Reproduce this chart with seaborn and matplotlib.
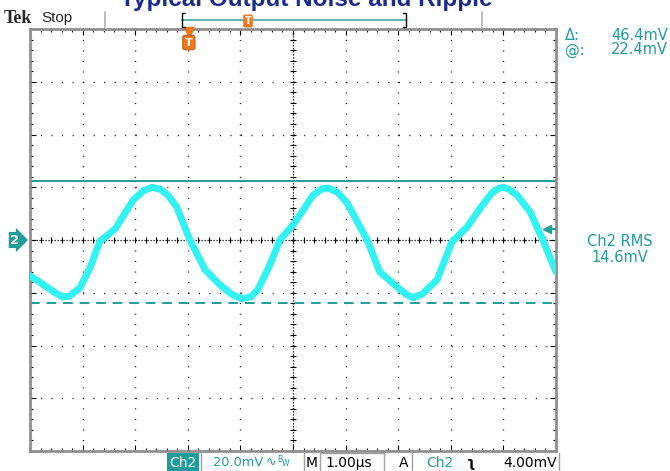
import numpy as np
import pandas as pd
import matplotlib
matplotlib.use("Agg")
import matplotlib.pyplot as plt
import matplotlib.transforms as mtransforms
from matplotlib.lines import Line2D
from matplotlib.patches import Rectangle
import seaborn as sns

# ripple trace (time in us, voltage in mV, 20 mV/div, 1 us/div)
time_us = [0.00, 0.23, 0.48, 0.62, 0.75, 0.95, 1.14, 1.33, 1.48, 1.63, 1.80, 1.96,
           2.15, 2.32, 2.48, 2.62, 2.79, 3.04, 3.33, 3.61, 3.85, 4.03, 4.20, 4.33,
           4.56, 4.75, 5.00, 5.20, 5.38, 5.55, 5.67, 5.85, 6.03, 6.41, 6.65, 6.98,
           7.15, 7.28, 7.45, 7.74, 8.02, 8.31, 8.56, 8.78, 8.90, 8.99, 9.10, 9.26,
           9.51, 9.75, 10.00]
ripple_mv = [-13.6, -16.6, -20.0, -21.6, -21.3, -18.1, -10.6, -0.4, 1.9, 4.5, 10.0, 15.1,
             18.6, 20.0, 19.2, 17.0, 12.5, 0.0, -11.3, -17.0, -20.8, -22.3, -21.5, -18.9,
             -9.5, 0.0, 5.7, 11.5, 17.0, 19.4, 19.7, 18.0, 14.0, 0.0, -12.1, -17.8,
             -20.6, -21.9, -20.6, -15.1, -0.8, 4.9, 12.1, 17.8, 19.5, 20.0, 19.3, 17.0,
             10.6, 0.0, -12.1]

cursor_top_mv = 22.4
cursor_delta_mv = 46.4
trig_level_mv = 4.0
trig_pos_us = 3.02
rms_mv = 14.6

TEAL = "#1f9c9c"
CYAN = "#33f2f2"
ORANGE = "#f0781e"
GRAY = "#8f8f8f"

sns.set_style("white")
plt.rcParams["font.family"] = ["DejaVu Sans"]

W, H = 670, 471
fig = plt.figure(figsize=(W / 100, H / 100), dpi=100)


def fx(px):
    return px / W


def fy(py):
    return 1 - py / H


ax = fig.add_axes([fx(30), fy(451), 526 / W, 422 / H])
ax.set_xlim(0, 10)
ax.set_ylim(-80, 80)

# graticule
ax.set_xticks(np.arange(0, 10.01, 1))
ax.set_yticks(np.arange(-80, 80.1, 20))
ax.set_xticks(np.arange(0, 10.01, 0.2), minor=True)
ax.set_yticks(np.arange(-80, 80.1, 4), minor=True)
ax.grid(which="major", color="black", lw=1.0, linestyle=(0, (0.7, 6.88)))
ax.tick_params(which="both", direction="in", top=True, right=True, left=True, bottom=True,
               labelleft=False, labelbottom=False, color="black", width=0.8)
ax.tick_params(which="major", length=4)
ax.tick_params(which="minor", length=2.5)
for s in ax.spines.values():
    s.set_color(GRAY)
    s.set_linewidth(2)

# center crosshair with fine ticks
ax.axhline(0, color="black", lw=0.9, linestyle=(0, (1, 1.4)), zorder=1)
ax.axvline(5, color="black", lw=0.9, linestyle=(0, (1, 1.4)), zorder=1)
ax.plot(np.arange(0, 10.01, 0.2), np.zeros(51), ls="none", marker="|", ms=5,
        mew=0.8, color="black", zorder=1)
ax.plot(np.full(41, 5.0), np.arange(-80, 80.1, 4), ls="none", marker="_", ms=5,
        mew=0.8, color="black", zorder=1)

# cursors
ax.axhline(cursor_top_mv, color=TEAL, lw=1.4, zorder=2)
ax.axhline(cursor_top_mv - cursor_delta_mv, color=TEAL, lw=1.4,
           linestyle=(0, (5, 3.5)), zorder=2)

# waveform
df = pd.DataFrame({"t": time_us, "v": ripple_mv})
sns.lineplot(data=df, x="t", y="v", ax=ax, color=CYAN, lw=5, sort=False,
             estimator=None, zorder=3)
ax.set_xlabel("")
ax.set_ylabel("")

# trigger level arrow on right edge
bt = mtransforms.blended_transform_factory(ax.transAxes, ax.transData)
ax.plot([0.982], [trig_level_mv], marker="<", ms=6, color=TEAL, transform=bt,
        clip_on=False, zorder=4)
ax.plot([0.982, 0.998], [trig_level_mv, trig_level_mv], color=TEAL, lw=1.5,
        transform=bt, clip_on=False, zorder=4)

# trigger position marker at top
bt2 = mtransforms.blended_transform_factory(ax.transData, ax.transAxes)
ax.plot([trig_pos_us], [0.992], marker="v", ms=7, color=ORANGE, transform=bt2,
        clip_on=False, zorder=5)
ax.text(trig_pos_us, 0.968, "T", transform=bt2, ha="center", va="center", color="white",
        fontsize=8, fontweight="bold",
        bbox=dict(boxstyle="round,pad=0.2", fc=ORANGE, ec="#c05a10", lw=0.8), zorder=5)

# channel 2 ground marker
ax.text(-0.02, 0, "2", transform=bt, ha="right", va="center", color="white",
        fontsize=9.5, fontweight="bold",
        bbox=dict(boxstyle="rarrow,pad=0.12", fc=TEAL, ec="none"))

# header
fig.text(fx(306), fy(6), "Typical Output Noise and Ripple", ha="center", va="baseline",
         color="#1b2a90", fontsize=17.5, fontweight="bold", family="Liberation Sans")
fig.text(fx(4), fy(23), "Tek", ha="left", va="baseline", fontsize=13, fontweight="bold",
         family="Liberation Serif")
fig.text(fx(41), fy(22), "Stop", ha="left", va="baseline", fontsize=11,
         family="Liberation Sans")
for px in (105, 482):
    fig.add_artist(Line2D([fx(px), fx(px)], [fy(12), fy(28)], color="#b0b0b0", lw=1.2))
fig.add_artist(Line2D([fx(182), fx(406)], [fy(20), fy(20)], color="#5ab4b4", lw=1.4))
for px, d in ((182, 1), (406, -1)):
    fig.add_artist(Line2D([fx(px + 3 * d), fx(px), fx(px), fx(px + 3 * d)],
                          [fy(13), fy(13), fy(27), fy(27)], color="black", lw=1))
fig.text(fx(248), fy(21), "T", ha="center", va="center", color="white", fontsize=7,
         fontweight="bold", bbox=dict(boxstyle="round,pad=0.15", fc=ORANGE, ec="none"))

# right-side readouts
fig.text(fx(565), fy(36), "\u0394:", ha="left", va="center", color=TEAL, fontsize=10.5)
fig.text(fx(668), fy(36), f"{cursor_delta_mv:.1f}mV", ha="right", va="center", color=TEAL,
         fontsize=10.5)
fig.text(fx(565), fy(50), "@:", ha="left", va="center", color=TEAL, fontsize=10.5)
fig.text(fx(668), fy(50), f"{cursor_top_mv:.1f}mV", ha="right", va="center", color=TEAL,
         fontsize=10.5)
fig.text(fx(620), fy(242), "Ch2 RMS", ha="center", va="center", color=TEAL, fontsize=10.5)
fig.text(fx(620), fy(258), f"{rms_mv:.1f}mV", ha="center", va="center", color=TEAL,
         fontsize=10.5)

# bottom status bar
fig.add_artist(Rectangle((fx(167), 0), fx(199) - fx(167), fy(453), color=TEAL, lw=0))
fig.text(fx(183), fy(463), "Ch2", ha="center", va="center", color="white", fontsize=10)
for px in (201, 304, 320, 384, 412, 559):
    fig.add_artist(Line2D([fx(px), fx(px)], [0, fy(453)], color="#a0a0a0", lw=1))
fig.add_artist(Line2D([fx(320), fx(384)], [fy(453), fy(453)], color="#a0a0a0", lw=1))
fig.text(fx(213), fy(463), "20.0mV", ha="left", va="center", color=TEAL, fontsize=9.3)
fig.text(fx(266), fy(462), "\u223f", ha="left", va="center", color=TEAL, fontsize=9)
fig.text(fx(277), fy(459), "B", ha="left", va="center", color=TEAL, fontsize=5.5)
fig.text(fx(282), fy(464), "W", ha="left", va="center", color=TEAL, fontsize=5.5)
fig.text(fx(306), fy(463), "M", ha="left", va="center", color="black", fontsize=10)
fig.text(fx(325), fy(463), "1.00\u00b5s", ha="left", va="center", color="black", fontsize=10)
fig.text(fx(399), fy(463), "A", ha="left", va="center", color="black", fontsize=10)
fig.text(fx(426), fy(463), "Ch2", ha="left", va="center", color=TEAL, fontsize=10)
fig.text(fx(467), fy(467), "\u0285", ha="left", va="baseline", color="black", fontsize=10,
         fontweight="bold")
fig.text(fx(557), fy(463), f"{trig_level_mv:.2f}mV", ha="right", va="center",
         color="black", fontsize=10)

fig.savefig("out.png", dpi=100)
